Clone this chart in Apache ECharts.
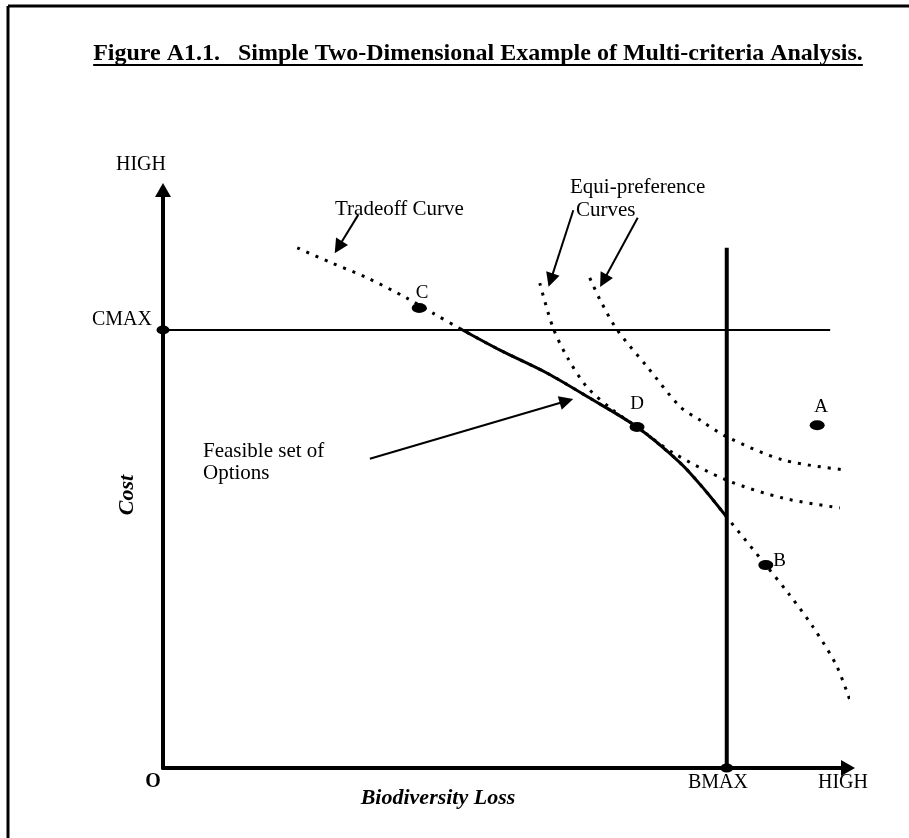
<!DOCTYPE html>
<html>
<head>
<meta charset="utf-8">
<title>Figure A1.1</title>
<script src="https://cdn.jsdelivr.net/npm/echarts@6/dist/echarts.min.js"></script>
<style>
  html, body { margin: 0; padding: 0; background: #fff; }
  #chart-container { width: 909px; height: 838px; }
</style>
</head>
<body>
<div id="chart-container"></div>
<script>
// values; x = biodiversity loss, y = cost (0-100 scale)
const cMax = 75.8;
const bMax = 82.3;
const cMaxLineEnd = 97.4;
const bMaxLineTop = 90.0;

const tradeoffX = [19.6, 24.4, 29.8, 35.6, 39.4, 43.4, 49.2, 56.1, 62.3, 69.2, 75.5, 79.1, 82.3, 88.0, 91.5, 94.9, 98.4, 101.0];
const tradeoffY = [90.0, 87.5, 84.8, 81.3, 78.7, 76.0, 72.3, 68.3, 64.0, 59.0, 52.8, 48.1, 43.4, 35.1, 29.9, 24.4, 17.5, 9.2];

const feasibleX = [43.4, 49.2, 56.1, 62.3, 69.2, 75.5, 79.1, 82.3];
const feasibleY = [76.0, 72.3, 68.3, 64.0, 59.0, 52.8, 48.1, 43.4];

const equi1X = [55.0, 56.9, 59.0, 61.9, 65.7, 69.2, 74.5, 82.3, 90.5, 98.8];
const equi1Y = [83.9, 76.3, 71.1, 65.9, 61.9, 59.0, 54.5, 49.8, 46.7, 45.0];

const equi2X = [62.3, 63.8, 66.3, 70.7, 75.5, 78.4, 82.3, 90.5, 99.3];
const equi2Y = [84.8, 81.0, 75.8, 69.4, 62.5, 60.2, 57.3, 53.3, 51.6];

const pointNames = ['A', 'B', 'C', 'D'];
const pointX = [95.5, 88.0, 37.4, 69.2];
const pointY = [59.3, 35.1, 79.6, 59.0];

// annotation arrows: start and arrow head
const arrowFrom = [[28.5, 95.7], [59.9, 96.5], [69.3, 95.2], [30.2, 53.5]];
const arrowTo = [[25.6, 90.1], [56.6, 84.4], [64.3, 84.3], [58.9, 63.5]];

const titleText = 'Figure A1.1.   Simple Two-Dimensional Example of Multi-criteria Analysis.';

document.addEventListener('DOMContentLoaded', function () {

    const chartContainer = document.getElementById('chart-container');
    const serif = "'Liberation Serif', 'Times New Roman', serif";
    const titleFont = 'bold 24px ' + serif;
    const noteFont = '21px ' + serif;
    const axisFont = '20px ' + serif;

    const zip = (xs, ys) => xs.map((x, i) => [x, ys[i]]);

    const measure = document.createElement('canvas').getContext('2d');
    measure.font = titleFont;
    const titleWidth = measure.measureText(titleText).width;

    const labelSetup = {
        A: { position: 'top', offset: [4, -2] },
        B: { position: 'right', offset: [-2, -4] },
        C: { position: 'top', offset: [3, 2] },
        D: { position: 'top', offset: [0, -6] }
    };

    const dotted = { color: '#000', width: 3, type: [3, 7] };

    const text = (str, x, y, font, align, extra) => Object.assign({
        type: 'text',
        x: x,
        y: y,
        style: {
            text: str,
            font: font,
            fill: '#000',
            textAlign: align || 'left',
            textVerticalAlign: 'middle'
        }
    }, extra || {});

    const option = {
        animation: false,
        backgroundColor: '#fff',
        grid: {
            left: 163,
            right: 61,
            top: 190,
            bottom: 70,
            containLabel: false
        },
        xAxis: {
            type: 'value',
            min: 0,
            max: 100,
            axisLine: {
                show: true,
                symbol: ['none', 'triangle'],
                symbolSize: [16, 14],
                lineStyle: { color: '#000', width: 4 }
            },
            axisTick: { show: false },
            axisLabel: { show: false },
            splitLine: { show: false }
        },
        yAxis: {
            type: 'value',
            min: 0,
            max: 100,
            axisLine: {
                show: true,
                symbol: ['none', 'triangle'],
                symbolSize: [16, 14],
                lineStyle: { color: '#000', width: 4 }
            },
            axisTick: { show: false },
            axisLabel: { show: false },
            splitLine: { show: false }
        },
        series: [
            {
                name: 'CMAX',
                type: 'line',
                data: [[0, cMax], [cMaxLineEnd, cMax]],
                symbol: 'none',
                clip: false,
                lineStyle: { color: '#000', width: 2 }
            },
            {
                name: 'BMAX',
                type: 'line',
                data: [[bMax, 0], [bMax, bMaxLineTop]],
                symbol: 'none',
                clip: false,
                lineStyle: { color: '#000', width: 4 }
            },
            {
                name: 'Tradeoff Curve',
                type: 'line',
                data: zip(tradeoffX, tradeoffY),
                smooth: 0.3,
                symbol: 'none',
                clip: false,
                lineStyle: dotted
            },
            {
                name: 'Equi-preference 1',
                type: 'line',
                data: zip(equi1X, equi1Y),
                smooth: 0.3,
                symbol: 'none',
                clip: false,
                lineStyle: dotted
            },
            {
                name: 'Equi-preference 2',
                type: 'line',
                data: zip(equi2X, equi2Y),
                smooth: 0.3,
                symbol: 'none',
                clip: false,
                lineStyle: dotted
            },
            {
                name: 'Feasible set',
                type: 'line',
                data: zip(feasibleX, feasibleY),
                smooth: 0.3,
                symbol: 'none',
                clip: false,
                lineStyle: { color: '#000', width: 3 }
            },
            {
                name: 'arrows',
                type: 'lines',
                coordinateSystem: 'cartesian2d',
                symbol: ['none', 'triangle'],
                symbolSize: [12, 14],
                lineStyle: { color: '#000', width: 2, opacity: 1, curveness: 0 },
                itemStyle: { color: '#000' },
                data: arrowFrom.map((p, i) => ({ coords: [p, arrowTo[i]] }))
            },
            {
                name: 'limits',
                type: 'scatter',
                symbol: 'circle',
                symbolSize: [13, 9],
                itemStyle: { color: '#000', opacity: 1 },
                data: [[0, cMax], [bMax, 0]]
            },
            {
                name: 'options',
                type: 'scatter',
                symbol: 'circle',
                symbolSize: [15, 10],
                itemStyle: { color: '#000', opacity: 1 },
                data: pointNames.map((n, i) => ({
                    name: n,
                    value: [pointX[i], pointY[i]],
                    label: {
                        show: true,
                        formatter: '{b}',
                        position: labelSetup[n].position,
                        offset: labelSetup[n].offset,
                        distance: 2,
                        color: '#000',
                        fontFamily: serif,
                        fontSize: 19
                    }
                }))
            }
        ],
        graphic: [
            // page border (left and top)
            { type: 'line', shape: { x1: 8, y1: 6, x2: 909, y2: 6 }, style: { stroke: '#000', lineWidth: 3 } },
            { type: 'line', shape: { x1: 8, y1: 6, x2: 8, y2: 838 }, style: { stroke: '#000', lineWidth: 3 } },
            text(titleText, 478, 54, titleFont, 'center'),
            {
                type: 'line',
                shape: { x1: 478 - titleWidth / 2, y1: 65, x2: 478 + titleWidth / 2, y2: 65 },
                style: { stroke: '#000', lineWidth: 2 }
            },
            text('HIGH', 141, 165, axisFont, 'center'),
            text('CMAX', 152, 320, axisFont, 'right'),
            text('O', 153, 782, 'bold ' + axisFont, 'center'),
            text('BMAX', 718, 783, axisFont, 'center'),
            text('HIGH', 843, 783, axisFont, 'center'),
            text('Biodiversity Loss', 438, 798, 'bold italic 22px ' + serif, 'center'),
            text('Cost', 127, 495, 'bold italic 22px ' + serif, 'center', { rotation: Math.PI / 2 }),
            text('Tradeoff Curve', 335, 209, noteFont, 'left'),
            text('Equi-preference', 570, 187, noteFont, 'left'),
            text('Curves', 576, 210, noteFont, 'left'),
            text('Feasible set of', 203, 451, noteFont, 'left'),
            text('Options', 203, 473, noteFont, 'left')
        ]
    };

    const chart = echarts.init(chartContainer);
    chart.setOption(option);

})
</script>
</body>
</html>
